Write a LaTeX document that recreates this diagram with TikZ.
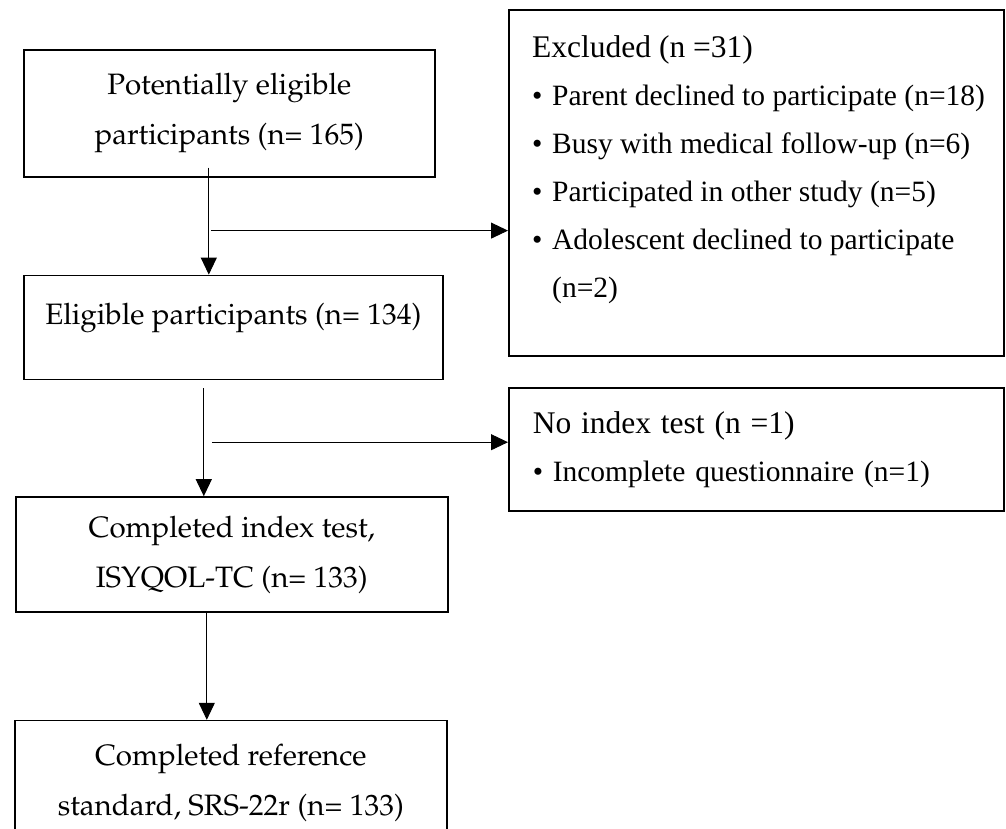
\documentclass[tikz,border=0pt]{standalone}
\usepackage{fontspec}
\setmainfont{Liberation Serif}
\usetikzlibrary{positioning,arrows.meta}
\newcommand\palfont{\fontencoding{T1}\fontfamily{ppl}\selectfont}
\newcommand\headfont{\fontsize{31.5}{48}\selectfont}

\begin{document}
\begin{tikzpicture}[x=1pt, y=1pt,
		box/.style={draw, line width=1.6pt, align=center, inner sep=0pt,
								font=\palfont\fontsize{29.5}{50}\selectfont},
		sidebox/.style={draw, line width=1.6pt, minimum width=495pt, inner sep=0pt},
		listtext/.style={align=left, inner sep=0pt, font=\fontsize{29.5}{48}\selectfont},
		arrow/.style={-{Triangle[length=17pt,width=16pt]}, line width=1pt},
		branch/.style={arrow, line width=0.9pt},
	]
		\useasboundingbox (0,0) rectangle (1006,-828);

		% main flow
		\node[box, minimum width=411pt, minimum height=127pt, anchor=north west] (pot) at (23,-49)
			{Potentially eligible\\participants (n= 165)};
		\node[box, minimum width=419pt, text height=49pt, text depth=55pt,
			below=97pt of pot.south west, anchor=north west] (elig) {Eligible participants (n= 134)};
		\node[box, minimum width=432pt, minimum height=115pt,
			below=116pt of elig.south west, anchor=north west, xshift=-8pt] (comp)
			{Completed index test,\\ISYQOL-TC (n= 133)};
		\node[box, minimum width=432pt, minimum height=125pt,
			below=107pt of comp.south west, anchor=north west, xshift=-1pt] (refstd)
			{Completed reference\\standard, SRS-22r (n= 133)};

		% exclusions
		\node[sidebox, minimum height=346pt, anchor=north west] (excl) at (508,-9) {};
		\node[listtext, anchor=north west] (excllist) at ([xshift=24pt, yshift=-26pt]excl.north west)
			{{\headfont Excluded (n =31)}\\
			\makebox[20pt][l]{\textbullet}Parent declined to participate (n=18)\\
			\makebox[20pt][l]{\textbullet}Busy with medical follow-up (n=6)\\
			\makebox[20pt][l]{\textbullet}Participated in other study (n=5)\\
			\makebox[20pt][l]{\textbullet}Adolescent declined to participate\\
			\hspace*{20pt}(n=2)};
		\node[sidebox, listtext, minimum height=123pt, text width=447pt, inner xsep=24pt,
			anchor=north west] (noidx) at (508,-387)
			{{\headfont No index test (n =1)}\\
			\makebox[20pt][l]{\textbullet}Incomplete questionnaire (n=1)};

		% arrows
		\coordinate (d1) at ([xshift=-20.5pt, yshift=10pt]pot.south);
		\coordinate (b1) at ([xshift=2pt, yshift=-63pt]d1);
		\coordinate (d2) at ([xshift=-29.5pt, yshift=-8pt]elig.south);
		\coordinate (b2) at ([xshift=8pt, yshift=-54pt]d2);
		\coordinate (d3) at ([xshift=-25pt]comp.south);
		\draw[arrow] (d1) -- (d1 |- elig.north);
		\draw[branch] (b1) -- (b1 -| excl.west);
		\draw[arrow] (d2) -- (d2 |- comp.north);
		\draw[branch] (b2) -- (b2 -| noidx.west);
		\draw[arrow] (d3) -- (d3 |- refstd.north);
	\end{tikzpicture}
\end{document}
